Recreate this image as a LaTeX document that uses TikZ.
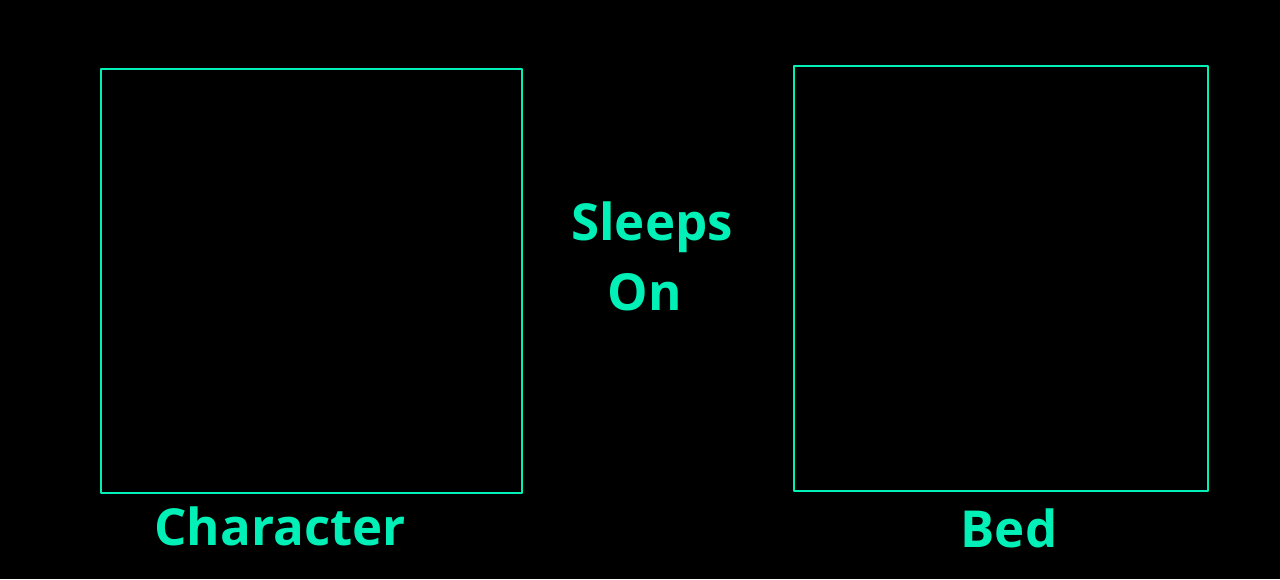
\documentclass[tikz,border=0pt]{standalone}
\usepackage{fontspec}
\setmainfont{Open Sans}
\definecolor{tealgreen}{RGB}{0,240,184}
\begin{document}
\begin{tikzpicture}[x=1pt,y=-1pt,line join=round]
		\tikzset{frame/.style={draw=tealgreen,line width=2.8pt,minimum width=#1,inner sep=0pt},
			label text/.style={text=tealgreen,font=\bfseries\fontsize{51}{72}\selectfont,anchor=base}}
		\fill[black] (0,0) rectangle (1280,579);
		\useasboundingbox (0,0) rectangle (1280,579);
		\node[frame=421pt,minimum height=424pt] (character) at (311.5,281) {};
		\node[frame=414pt,minimum height=425pt] (bed) at (1001,278.5) {};
		\node[label text] (charlabel) at (280,545) {Character};
		\node[label text] (bedlabel) at (1009,547) {Bed};
		\node[label text] (sleeps) at (652,240) {Sleeps};
		\node[label text] (on) at (645,310) {On};
		\end{tikzpicture}
\end{document}
